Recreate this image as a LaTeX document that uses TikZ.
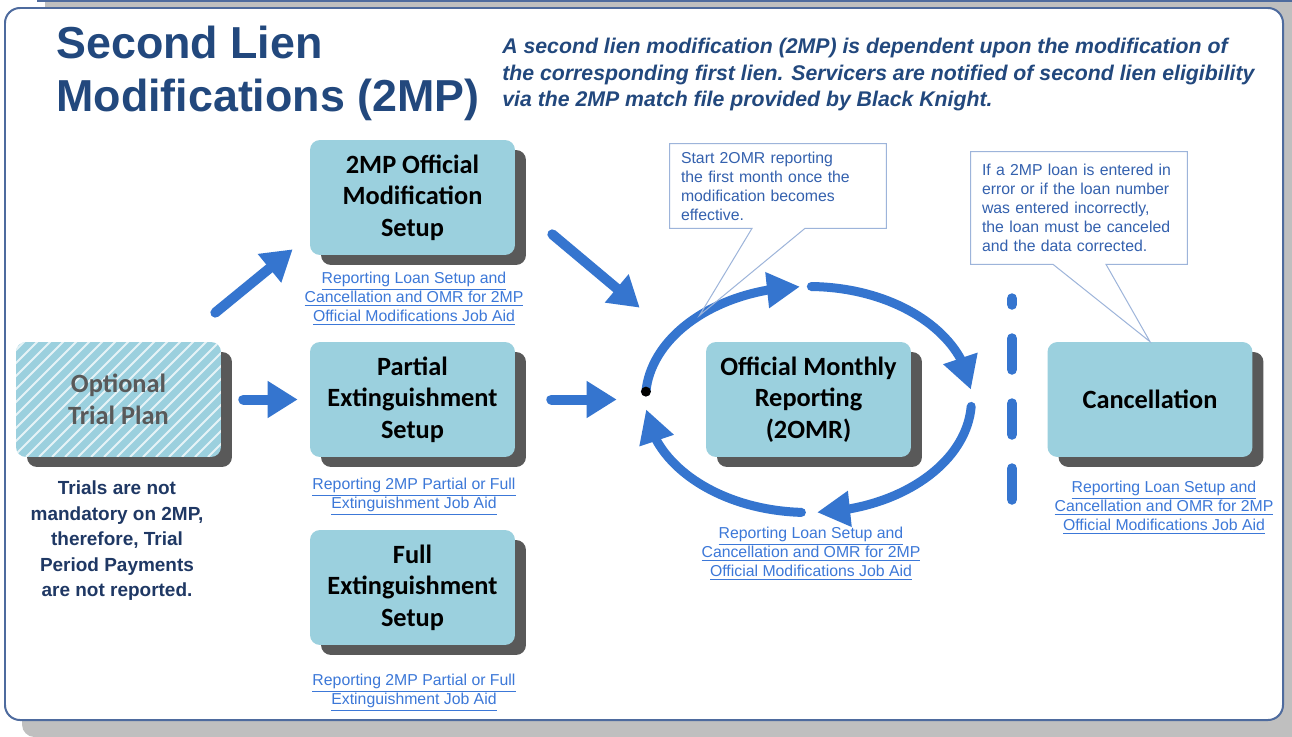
\documentclass[tikz,border=0pt]{standalone}
\usepackage{fontspec}
\setmainfont{Liberation Sans}
\newfontfamily\calibri{Carlito}
\usetikzlibrary{arrows.meta,bending,shadows}

\definecolor{boxfill}{HTML}{9BD0DE}
\definecolor{boxshadow}{HTML}{595959}
\definecolor{flowblue}{HTML}{3575CF}
\definecolor{titleblue}{HTML}{22487D}
\definecolor{noteblue}{HTML}{1F3864}
\definecolor{linkblue}{HTML}{3C78D8}
\definecolor{callouttext}{HTML}{3461AE}
\definecolor{calloutline}{HTML}{9DB4DA}
\definecolor{panelline}{HTML}{4E6B9E}
\definecolor{panelshadow}{HTML}{BFBFBF}

\newcommand{\joblink}[1]{\underline{#1}}
\newcommand{\loansetuplink}{\joblink{Reporting Loan Setup and}\\\joblink{Cancellation and OMR for 2MP}\\\joblink{Official Modifications Job Aid}}
\newcommand{\extinguishlink}{\joblink{Reporting 2MP Partial or Full}\\\joblink{Extinguishment Job Aid}}

\tikzset{
  stepbox/.style={rectangle, rounded corners=0.2cm, fill=boxfill, minimum width=4.1cm, minimum height=2.3cm,
    align=center, inner sep=0pt, font=\calibri\bfseries\fontsize{15}{18}\selectfont,
    drop shadow={shadow xshift=0.22cm, shadow yshift=-0.2cm, fill=boxshadow, opacity=1}},
  linktext/.style={align=center, text=linkblue, inner sep=0pt, font=\fontsize{9}{10.8}\selectfont},
  calloutbox/.style={align=left, text=callouttext, text width=3.88cm, inner xsep=0.22cm, inner ysep=0pt,
    font=\fontsize{9}{10.8}\selectfont},
  calloutedge/.style={calloutline, line width=0.02cm},
  flowarrow/.style={flowblue, line width=0.2cm, line cap=round, -{Triangle[length=0.6cm,width=0.7cm]}},
  looparrow/.style={flowblue, line width=0.18cm, line cap=round, -{Triangle[length=0.66cm,width=0.68cm]}},
  hatchline/.style={white, line width=0.04cm, opacity=0.75},
}

\begin{document}
\begin{tikzpicture}[x=0.02cm, y=-0.02cm]
\useasboundingbox (0,0) rectangle (1292,737);

\fill[panelshadow] (45,0) rectangle (1292,737);
\fill[panelshadow, rounded corners=0.25cm] (22,600) rectangle (1292,737);
\draw[panelline, line width=0.04cm] (37,1) -- (1292,1);
\draw[panelline, line width=0.04cm, fill=white, rounded corners=0.3cm] (5,8) rectangle (1283,720);

\node[anchor=north west, inner sep=0pt, align=left, text=titleblue, font=\bfseries\fontsize{25.5}{30}\selectfont] (title) at (56,26) {Second Lien\\Modifications (2MP)};
\node[anchor=north west, inner sep=0pt, align=left, text=titleblue, font=\bfseries\itshape\fontsize{12.1}{15}\selectfont] (summary) at (502,38)
  {A second lien modification (2MP) is dependent upon the modification of\\the corresponding first lien. Servicers are notified of second lien eligibility\\via the 2MP match file provided by Black Knight.};

\node[stepbox, text=boxshadow, path picture={
    \foreach \k in {-2.4,-2.14,...,4.2}
      \draw[hatchline] ([xshift=\k cm]path picture bounding box.south west) -- ++(2.4cm,2.4cm);
  }] (trial) at (118.5,399.5) {Optional\\Trial Plan};
\node[stepbox] (setup) at (412.5,197.5) {2MP Official\\Modification\\Setup};
\node[stepbox] (partial) at (412.5,399.5) {Partial\\Extinguishment\\Setup};
\node[stepbox] (full) at (412.5,587.5) {Full\\Extinguishment\\Setup};
\node[stepbox] (omr) at (808.5,399.5) {Official Monthly\\Reporting\\(2OMR)};
\node[stepbox] (cancel) at (1150,399.5) {Cancellation};

\node[align=center, inner sep=0pt, text=noteblue, font=\bfseries\fontsize{10.8}{14.5}\selectfont] (trialnote) at (117,541)
  {Trials are not\\mandatory on 2MP,\\therefore, Trial\\Period Payments\\are not reported.};

\node[linktext] (setuplink) at (414,299) {\loansetuplink};
\node[linktext] (partiallink) at (414,496.5) {\extinguishlink};
\node[linktext] (fulllink) at (414,692.5) {\extinguishlink};
\node[linktext] (omrlink) at (811,554) {\loansetuplink};
\node[linktext] (cancellink) at (1164,508) {\loansetuplink};

\draw[flowarrow, shorten <=0.44cm, shorten >=0.24cm] (trial) -- (partial);
\draw[flowarrow] ([shift={(-6,-29)}]trial.north east) -- ([shift={(-17,-6)}]setup.south west);
\draw[flowarrow] ([shift={(37,-21)}]setup.south east) -- ([shift={(-66,-34)}]omr.north west);
\draw[flowarrow, shorten <=0.72cm, shorten >=1.78cm] (partial) -- (omr);

\coordinate (loopstart) at ([shift={(184:163 and 113)}]omr.center);
\coordinate (startpoint) at ([shift={(228:163 and 113)}]omr.center);
\draw[looparrow] (loopstart) arc[start angle=184, end angle=267, x radius=163, y radius=113];
\draw[looparrow] ([shift={(271:163 and 113)}]omr.center) arc[start angle=271, end angle=355, x radius=163, y radius=113];
\draw[looparrow] ([shift={(3.5:163 and 113)}]omr.center) arc[start angle=3.5, end angle=87, x radius=163, y radius=113];
\draw[looparrow] ([shift={(92.5:163 and 113)}]omr.center) arc[start angle=92.5, end angle=175, x radius=163, y radius=113];
\fill[black] (loopstart) circle (5);

\foreach \ya/\yb in {298.5/304.5, 338.5/369.5, 403.5/434.5, 468.5/499.5}
  \draw[flowblue, line width=0.21cm, line cap=round] (1012,\ya) -- (1012,\yb);

\node[calloutbox, minimum height=1.68cm] (startnote) at (778,186)
  {Start 2OMR reporting\\the first month once the\\modification becomes\\effective.};
\draw[calloutedge] ([xshift=0.54cm]startnote.south) -- (startnote.south east) -- (startnote.north east)
  -- (startnote.north west) -- (startnote.south west) -- ([xshift=-0.52cm]startnote.south) -- (startpoint)
  -- cycle;
\node[calloutbox, minimum height=2.24cm] (cancelnote) at (1079,208)
  {If a 2MP loan is entered in\\error or if the loan number\\was entered incorrectly,\\the loan must be canceled\\and the data corrected.};
\draw[calloutedge] ([xshift=0.54cm]cancelnote.south) -- (cancelnote.south east) -- (cancelnote.north east)
  -- (cancelnote.north west) -- (cancelnote.south west) -- ([xshift=-0.52cm]cancelnote.south) -- (cancel.north)
  -- cycle;
\end{tikzpicture}
\end{document}
